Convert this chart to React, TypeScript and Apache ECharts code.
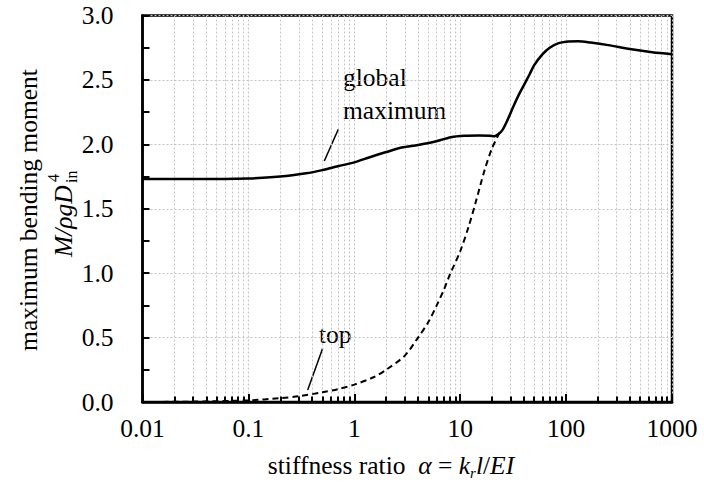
import React, { useEffect, useRef } from "react";
import * as echarts from "echarts";

const FONT = "Liberation Serif";
const FS = 25.5;

// x: stiffness ratio alpha, y: maximum bending moment
const alphaGlobal = [0.01, 0.03, 0.1, 0.2, 0.35, 0.5, 0.7, 1, 1.4, 2, 2.8, 4, 5.7, 8.2, 11, 15, 19, 21, 23, 25, 28, 32, 36, 40, 45, 50, 60, 70, 85, 100, 130, 170, 250, 400, 650, 1000];
const momentGlobal = [1.73, 1.73, 1.735, 1.75, 1.775, 1.8, 1.83, 1.86, 1.9, 1.94, 1.975, 1.995, 2.02, 2.055, 2.066, 2.068, 2.066, 2.062, 2.08, 2.11, 2.19, 2.3, 2.39, 2.46, 2.54, 2.615, 2.7, 2.75, 2.785, 2.797, 2.8, 2.79, 2.77, 2.74, 2.715, 2.7];

const alphaTop = [0.01, 0.03, 0.1, 0.2, 0.3, 0.5, 0.7, 1, 1.5, 2, 3, 4, 5, 6, 7, 8, 10, 12, 14, 17, 20, 23.5];
const momentTop = [0.0, 0.003, 0.013, 0.03, 0.045, 0.075, 0.1, 0.135, 0.19, 0.25, 0.36, 0.5, 0.62, 0.75, 0.87, 0.99, 1.17, 1.36, 1.55, 1.8, 1.97, 2.09];

const decadeExponents = [-2, -1, 0, 1, 2];
const minorMultipliers = [2, 3, 4, 5, 6, 7, 8, 9];
const yTickLabels = ["0.0", "0.5", "1.0", "1.5", "2.0", "2.5", "3.0"];

const minorLogPositions: number[] = [];
decadeExponents.forEach((e) => minorMultipliers.forEach((m) => minorLogPositions.push(e + Math.log10(m))));

const gridLine = { color: "#c4c4c4", type: [2, 2] as number[], width: 1 };

export default function App() {
  const ref = useRef<HTMLDivElement>(null);
  useEffect(() => {
    document.body.style.margin = "0";
    if (!ref.current) return;
    const chart = echarts.init(ref.current, undefined, { renderer: "svg" });
    const text = (t: string, x: number, y: number, extra: any = {}) => ({
      type: "text",
      x,
      y,
      style: { text: t, fontFamily: FONT, fontSize: FS, fill: "#000", align: "left", verticalAlign: "middle", ...extra },
    });
    chart.setOption({
      animation: false,
      textStyle: { fontFamily: FONT },
      grid: {
        left: 142.5,
        right: 32,
        top: 15.5,
        bottom: 80,
        show: true,
        borderColor: "#000",
        borderWidth: 2.5,
        containLabel: false,
        outerBoundsMode: "none",
      },
      xAxis: [
        {
          type: "log",
          logBase: 10,
          min: 0.01,
          max: 1000,
          position: "bottom",
          axisLine: { show: true, onZero: false, lineStyle: { color: "#000", width: 2.5 } },
          axisTick: { show: true, inside: true, length: 8, lineStyle: { color: "#000", width: 2 } },
          axisLabel: {
            color: "#000",
            fontFamily: FONT,
            fontSize: FS,
            margin: 13,
            formatter: (v: number) => {
              const e = Math.round(Math.log10(v));
              return e < 0 ? Math.pow(10, e).toFixed(-e) : String(Math.pow(10, e));
            },
          },
          splitLine: { show: true, lineStyle: gridLine },
        },
        {
          type: "value",
          min: -2,
          max: 3,
          position: "bottom",
          axisLine: { show: false, onZero: false },
          axisLabel: { show: false },
          axisTick: { show: true, inside: true, length: 5.5, customValues: minorLogPositions, lineStyle: { color: "#000", width: 2 } },
          splitLine: { show: true, lineStyle: gridLine },
        },
      ],
      yAxis: {
        type: "value",
        min: 0,
        max: 3,
        interval: 0.5,
        axisLine: { show: true, onZero: false, lineStyle: { color: "#000", width: 2.5 } },
        axisTick: { show: true, inside: true, length: 7, lineStyle: { color: "#000", width: 2 } },
        minorTick: { show: true, splitNumber: 2, length: 7, lineStyle: { color: "#000", width: 2 } },
        splitLine: { show: true, lineStyle: gridLine },
        axisLabel: {
          color: "#000",
          fontFamily: FONT,
          fontSize: FS,
          margin: 29,
          formatter: (v: number) => yTickLabels[Math.round(v / 0.5)] ?? v.toFixed(1),
        },
      },
      series: [
        {
          name: "global maximum",
          type: "line",
          xAxisIndex: 0,
          data: alphaGlobal.map((a, i) => [a, momentGlobal[i]]),
          showSymbol: false,
          smooth: 0.3,
          lineStyle: { color: "#000", width: 2.5 },
          z: 5,
        },
        {
          name: "top",
          type: "line",
          xAxisIndex: 0,
          data: alphaTop.map((a, i) => [a, momentTop[i]]),
          showSymbol: false,
          smooth: 0.3,
          lineStyle: { color: "#000", width: 2, type: [6, 4] },
          z: 4,
        },
      ],
      graphic: [
        text("global", 343, 77),
        text("maximum", 343, 110),
        text("top", 319, 334),
        { type: "line", shape: { x1: 338.3, y1: 129.3, x2: 324.3, y2: 161 }, style: { stroke: "#000", lineWidth: 1.5 } },
        { type: "line", shape: { x1: 322.7, y1: 348.3, x2: 307.7, y2: 390 }, style: { stroke: "#000", lineWidth: 1.5 } },
        {
          type: "text",
          x: 28,
          y: 210,
          rotation: Math.PI / 2,
          style: { text: "maximum bending moment", fontFamily: FONT, fontSize: FS, fill: "#000", align: "center", verticalAlign: "middle" },
        },
        {
          type: "group",
          x: 63,
          y: 257,
          rotation: Math.PI / 2,
          children: [
            text("M/ρgD", 0, 0, { fontStyle: "italic" }),
            text("in", 74, 8, { fontSize: 16 }),
            text("4", 75, -10, { fontSize: 16 }),
          ],
        },
        {
          type: "text",
          x: 391,
          y: 465,
          style: {
            text: "{n|stiffness ratio  }{i|α}{n| = }{i|k}{s|r}{i|l}{n|/}{i|EI}",
            fontFamily: FONT,
            fontSize: FS,
            fill: "#000",
            align: "center",
            verticalAlign: "middle",
            rich: {
              n: { fontFamily: FONT, fontSize: FS, lineHeight: 30 },
              i: { fontFamily: FONT, fontSize: FS, fontStyle: "italic", lineHeight: 30 },
              s: { fontFamily: FONT, fontSize: 15, fontStyle: "italic", verticalAlign: "bottom", lineHeight: 30 },
            },
          },
        },
      ],
    });
    return () => chart.dispose();
  }, []);
  return <div ref={ref} style={{ width: 704, height: 482 }} />;
}
